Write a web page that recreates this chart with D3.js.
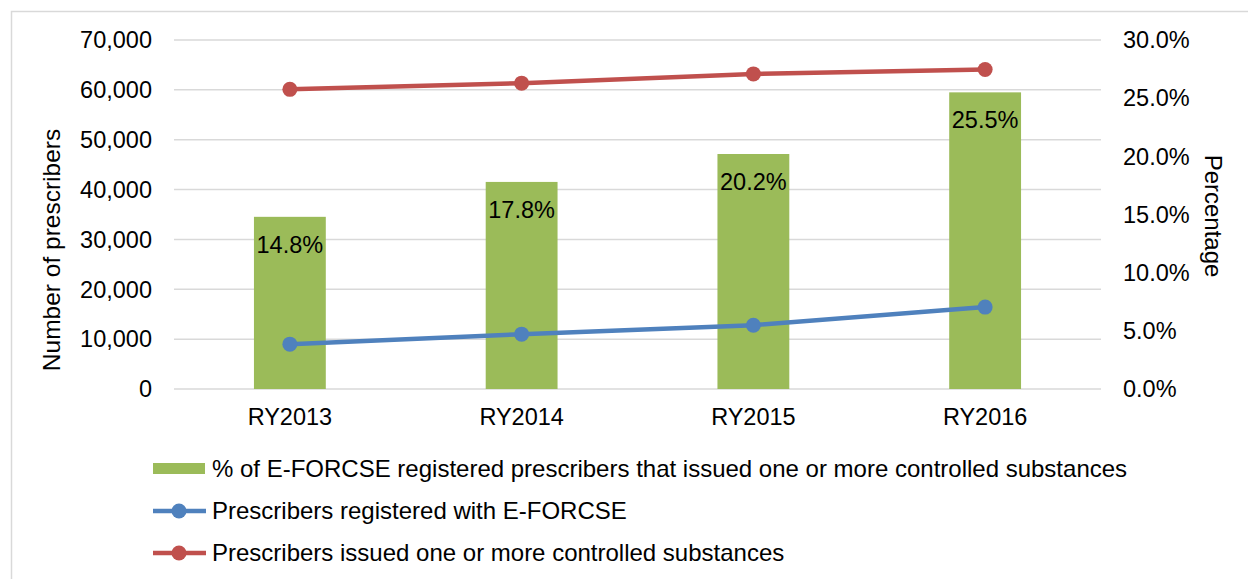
<!DOCTYPE html>
<html>
<head>
<meta charset="utf-8">
<script src="https://cdn.jsdelivr.net/npm/d3@7"></script>
<style>
  html, body { margin: 0; padding: 0; background: #fff; }
  svg { display: block; font-family: "Liberation Sans", Arial, sans-serif; }
  .grid line { stroke: #d9d9d9; stroke-width: 1.5; }
  .tick-label { font-size: 23.5px; fill: #000; }
</style>
</head>
<body>
<div id="chart"></div>
<script>
const categories = ['RY2013', 'RY2014', 'RY2015', 'RY2016'];
const pctRegistered = [14.8, 17.8, 20.2, 25.5];
const registered = [9000, 11000, 12800, 16430];
const issued = [60100, 61350, 63200, 64080];
const leftTicks = [0, 10000, 20000, 30000, 40000, 50000, 60000, 70000];
const rightTicks = [0, 5, 10, 15, 20, 25, 30];

const width = 1248, height = 579;
const plot = { left: 174, right: 1101, top: 40, bottom: 389 };
const colors = { bar: '#9bbb59', blue: '#4f81bd', red: '#c0504d' };

const svg = d3.select('#chart').append('svg')
  .attr('width', width).attr('height', height)
  .attr('viewBox', `0 0 ${width} ${height}`);

// outer chart border
svg.append('rect')
  .attr('x', 11.5).attr('y', 11.5).attr('width', 1260).attr('height', 600)
  .attr('fill', 'none').attr('stroke', '#d9d9d9').attr('stroke-width', 1.5);

const x = d3.scaleBand().domain(categories).range([plot.left, plot.right]).padding(0);
const yLeft = d3.scaleLinear().domain([0, 70000]).range([plot.bottom, plot.top]);
const yRight = d3.scaleLinear().domain([0, 30]).range([plot.bottom, plot.top]);
const cx = d => x(d) + x.bandwidth() / 2;

svg.append('g').attr('class', 'grid')
  .selectAll('line').data(leftTicks).join('line')
  .attr('x1', plot.left).attr('x2', plot.right)
  .attr('y1', d => yLeft(d)).attr('y2', d => yLeft(d));

// left axis labels
const fmt = d3.format(',');
svg.append('g').selectAll('text').data(leftTicks).join('text')
  .attr('class', 'tick-label')
  .attr('x', 152).attr('y', d => yLeft(d)).attr('dy', '0.35em')
  .attr('text-anchor', 'end')
  .text(d => fmt(d));

// right axis labels
svg.append('g').selectAll('text').data(rightTicks).join('text')
  .attr('class', 'tick-label')
  .attr('x', 1123).attr('y', d => yRight(d)).attr('dy', '0.35em')
  .text(d => d.toFixed(1) + '%');

// category labels
svg.append('g').selectAll('text').data(categories).join('text')
  .attr('class', 'tick-label')
  .attr('x', d => cx(d)).attr('y', 425)
  .attr('text-anchor', 'middle')
  .text(d => d);

// axis titles
svg.append('text').attr('class', 'tick-label')
  .attr('transform', 'translate(60,250) rotate(-90)')
  .attr('text-anchor', 'middle').style('font-size', '24.5px')
  .text('Number of prescribers');
svg.append('text').attr('class', 'tick-label')
  .attr('transform', 'translate(1205,216) rotate(90)')
  .attr('text-anchor', 'middle').style('font-size', '24px')
  .text('Percentage');

// bars (right axis)
const barW = x.bandwidth() * 0.31;
svg.append('g').selectAll('rect').data(categories).join('rect')
  .attr('x', d => cx(d) - barW / 2)
  .attr('y', (d, i) => yRight(pctRegistered[i]))
  .attr('width', barW)
  .attr('height', (d, i) => plot.bottom - yRight(pctRegistered[i]))
  .attr('fill', colors.bar);

svg.append('g').selectAll('text').data(categories).join('text')
  .attr('class', 'tick-label')
  .attr('x', d => cx(d))
  .attr('y', (d, i) => yRight(pctRegistered[i]) + 36)
  .attr('text-anchor', 'middle')
  .text((d, i) => pctRegistered[i].toFixed(1) + '%');

// lines (left axis)
function drawLine(values, color) {
  const line = d3.line().x((d, i) => cx(categories[i])).y(d => yLeft(d));
  svg.append('path').datum(values)
    .attr('d', line).attr('fill', 'none')
    .attr('stroke', color).attr('stroke-width', 4.5);
  svg.append('g').selectAll('circle').data(values).join('circle')
    .attr('cx', (d, i) => cx(categories[i])).attr('cy', d => yLeft(d))
    .attr('r', 7.5).attr('fill', color);
}
drawLine(registered, colors.blue);
drawLine(issued, colors.red);

// legend
const legend = svg.append('g');
const legendItems = [
  { label: '% of E-FORCSE registered prescribers that issued one or more controlled substances', type: 'bar', color: colors.bar, y: 469 },
  { label: 'Prescribers registered with E-FORCSE', type: 'line', color: colors.blue, y: 511 },
  { label: 'Prescribers issued one or more controlled substances', type: 'line', color: colors.red, y: 553 }
];
legendItems.forEach(it => {
  if (it.type === 'bar') {
    legend.append('rect').attr('x', 153).attr('y', it.y - 6).attr('width', 52).attr('height', 11)
      .attr('fill', it.color);
  } else {
    legend.append('line').attr('x1', 153).attr('x2', 206).attr('y1', it.y).attr('y2', it.y)
      .attr('stroke', it.color).attr('stroke-width', 4.5);
    legend.append('circle').attr('cx', 179).attr('cy', it.y).attr('r', 7.5).attr('fill', it.color);
  }
  legend.append('text').attr('class', 'tick-label')
    .attr('x', 212).attr('y', it.y).attr('dy', '0.35em')
    .style('font-size', '24px')
    .text(it.label);
});
</script>
</body>
</html>
